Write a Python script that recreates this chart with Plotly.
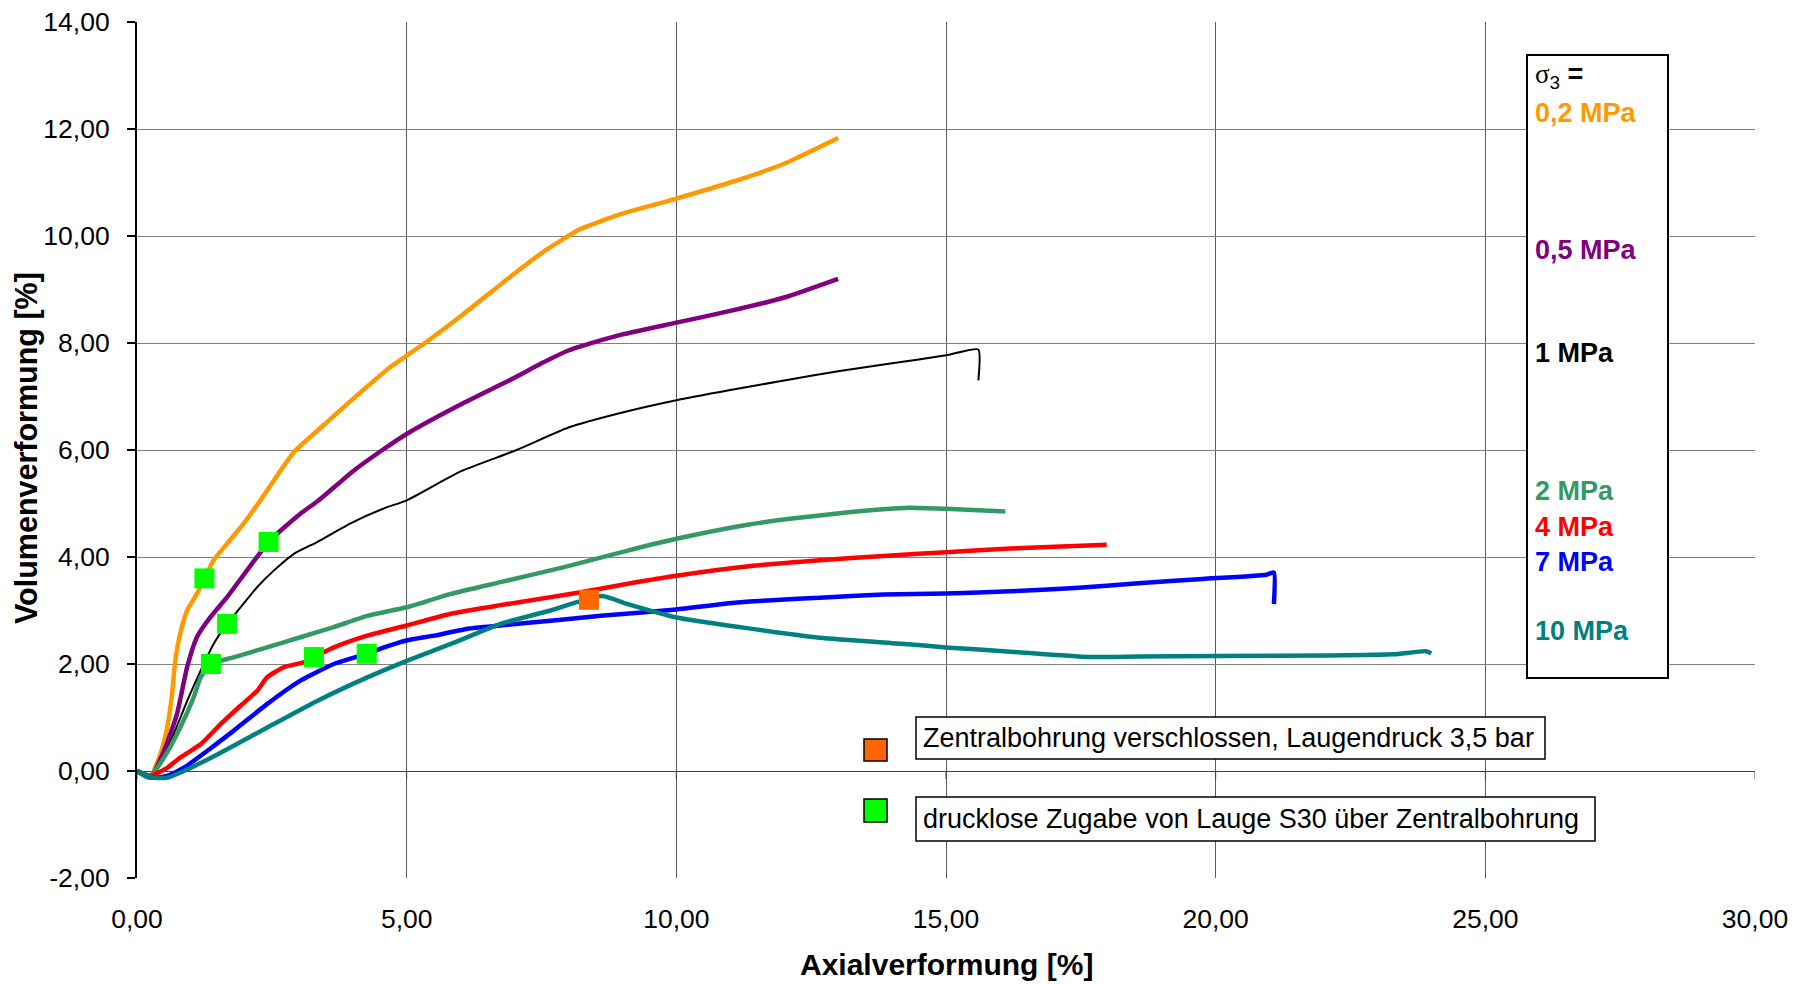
import plotly.graph_objects as go

# ---------------- data ----------------
x_02 = [0, 0.25, 0.43, 0.56, 0.65, 0.71, 0.8, 0.93, 1.11, 1.25, 1.42, 1.67, 1.98, 2.29, 2.9, 3.5, 4.0, 4.7, 5.34, 6.0, 6.5, 7.0, 7.6, 8.2, 8.6, 9.0, 10.0, 11.0, 12.0, 13.0]
y_02 = [0, -0.09, 0.31, 0.81, 1.44, 2.06, 2.56, 3.0, 3.31, 3.59, 3.94, 4.25, 4.63, 5.06, 5.95, 6.5, 6.95, 7.55, 8.0, 8.5, 8.9, 9.3, 9.75, 10.12, 10.28, 10.42, 10.7, 11.0, 11.35, 11.83]

x_05 = [0, 0.25, 0.5, 0.74, 0.93, 1.11, 1.36, 1.67, 2.04, 2.44, 2.67, 3.03, 3.37, 4.0, 4.55, 5.0, 6.0, 7.0, 7.5, 8.0, 8.5, 9.0, 10.0, 11.0, 12.0, 13.0]
y_05 = [0, -0.12, 0.375, 1.06, 1.94, 2.5, 2.875, 3.25, 3.75, 4.28, 4.5, 4.81, 5.06, 5.6, 6.0, 6.3, 6.85, 7.35, 7.62, 7.86, 8.02, 8.16, 8.38, 8.6, 8.85, 9.2]

x_1 = [0, 0.25, 0.43, 0.68, 0.93, 1.18, 1.42, 1.67, 1.92, 2.23, 2.54, 2.91, 3.34, 3.96, 4.58, 5.0, 6.0, 7.04, 8.0, 9.0, 10.0, 11.0, 12.0, 13.0, 14.0, 15.0, 15.6, 15.6]
y_1 = [0, -0.075, 0.125, 0.69, 1.31, 1.875, 2.375, 2.75, 3.06, 3.44, 3.75, 4.06, 4.28, 4.63, 4.91, 5.06, 5.6, 6.0, 6.42, 6.7, 6.93, 7.12, 7.3, 7.47, 7.62, 7.77, 7.88, 7.3]

x_2 = [0, 0.22, 0.5, 0.8, 1.05, 1.18, 1.37, 1.79, 2.41, 3.03, 3.65, 4.27, 5.0, 5.82, 6.74, 7.92, 9.1, 10.0, 11.24, 12.06, 13.24, 14.3, 15.0, 16.1]
y_2 = [0, -0.125, 0.25, 0.81, 1.375, 1.75, 2.0, 2.125, 2.31, 2.5, 2.69, 2.9, 3.06, 3.31, 3.53, 3.81, 4.12, 4.34, 4.59, 4.71, 4.84, 4.92, 4.9, 4.85]

x_4 = [0, 0.25, 0.56, 0.8, 1.18, 1.55, 1.92, 2.23, 2.41, 2.72, 3.09, 3.28, 3.65, 4.27, 5.0, 5.82, 6.74, 7.67, 8.23, 9.1, 10.0, 11.47, 12.66, 13.84, 15.0, 16.2, 17.98]
y_4 = [0, -0.09, 0.06, 0.25, 0.5, 0.875, 1.22, 1.5, 1.75, 1.94, 2.03, 2.125, 2.31, 2.53, 2.72, 2.94, 3.1, 3.25, 3.34, 3.5, 3.65, 3.84, 3.94, 4.02, 4.09, 4.16, 4.23]

x_7 = [0, 0.31, 0.56, 0.87, 1.3, 1.79, 2.41, 3.03, 3.65, 4.26, 4.58, 5.0, 5.51, 6.13, 6.74, 7.67, 8.6, 10.0, 11.12, 12.66, 13.84, 15.0, 16.2, 17.39, 18.57, 19.76, 20.94, 21.08, 21.08]
y_7 = [0, -0.125, -0.09, 0.06, 0.375, 0.75, 1.25, 1.69, 2.0, 2.19, 2.31, 2.44, 2.53, 2.66, 2.72, 2.81, 2.9, 3.02, 3.15, 3.24, 3.3, 3.32, 3.36, 3.42, 3.51, 3.59, 3.67, 3.71, 3.12]

x_10 = [0, 0.31, 0.56, 0.87, 1.49, 2.41, 3.34, 4.27, 5.0, 5.82, 6.74, 7.67, 8.17, 8.63, 9.1, 10.0, 11.24, 12.66, 14.3, 15.0, 16.2, 17.63, 18.57, 20.0, 22.1, 23.3, 23.9, 24.0]
y_10 = [0, -0.125, -0.125, 0, 0.31, 0.81, 1.31, 1.75, 2.06, 2.375, 2.75, 3.0, 3.16, 3.27, 3.12, 2.87, 2.68, 2.49, 2.37, 2.31, 2.23, 2.13, 2.14, 2.15, 2.16, 2.18, 2.24, 2.2]

# event markers
green_x = [1.25, 2.44, 1.67, 1.37, 3.28, 4.26]
green_y = [3.6, 4.28, 2.75, 2.0, 2.13, 2.19]
orange_x = [8.38]
orange_y = [3.2]

series_labels = ["0,2 MPa", "0,5 MPa", "1 MPa", "2 MPa", "4 MPa", "7 MPa", "10 MPa"]
x_ticks = [0, 5, 10, 15, 20, 25, 30]
x_tick_labels = ["0,00", "5,00", "10,00", "15,00", "20,00", "25,00", "30,00"]
y_ticks = [-2, 0, 2, 4, 6, 8, 10, 12, 14]
y_tick_labels = ["-2,00", "0,00", "2,00", "4,00", "6,00", "8,00", "10,00", "12,00", "14,00"]

note_orange = "Zentralbohrung verschlossen, Laugendruck 3,5 bar"
note_green = "drucklose Zugabe von Lauge S30 über Zentralbohrung"

# ---------------- styling ----------------
colors = ["#FF9900", "#800080", "#000000", "#339966", "#FF0000", "#0000FF", "#008080"]
widths = [4.5, 4.5, 2, 4.5, 4.5, 4.5, 4.5]
FONT = "Liberation Sans, Arial, sans-serif"

W, H = 1799, 984
L, R, T, B = 137, 1755, 22, 878


def px(x):
    return (x - L) / (R - L)


def py(y):
    return (B - y) / (B - T)


fig = go.Figure()
series = [(x_02, y_02), (x_05, y_05), (x_1, y_1), (x_2, y_2), (x_4, y_4), (x_7, y_7), (x_10, y_10)]
for (xs, ys), c, w, name in zip(series, colors, widths, series_labels):
    fig.add_trace(go.Scatter(x=xs, y=ys, mode="lines", name=name,
                             line=dict(color=c, width=w, shape="spline", smoothing=0.5),
                             showlegend=False))

fig.add_trace(go.Scatter(x=green_x, y=green_y, mode="markers", showlegend=False,
                         marker=dict(symbol="square", size=20, color="#00FF00", line=dict(width=0))))
fig.add_trace(go.Scatter(x=orange_x, y=orange_y, mode="markers", showlegend=False,
                         marker=dict(symbol="square", size=20, color="#FF6600", line=dict(width=0))))

shapes = []
# small tick marks on the x axis line at y = 0
for xv in x_ticks:
    shapes.append(dict(type="line", xref="x", yref="y", x0=xv, x1=xv, y0=0, y1=-0.15,
                       line=dict(color="#404040", width=1)))
# sigma legend box
shapes.append(dict(type="rect", xref="paper", yref="paper", x0=px(1527), x1=px(1668), y0=py(678), y1=py(55),
                   line=dict(color="black", width=2), fillcolor="white", layer="above"))
# note boxes
shapes.append(dict(type="rect", xref="paper", yref="paper", x0=px(916), x1=px(1545), y0=py(759), y1=py(717),
                   line=dict(color="black", width=1.5), fillcolor="white", layer="above"))
shapes.append(dict(type="rect", xref="paper", yref="paper", x0=px(916), x1=px(1595), y0=py(841), y1=py(797),
                   line=dict(color="black", width=1.5), fillcolor="white", layer="above"))
# note keys
shapes.append(dict(type="rect", xref="paper", yref="paper", x0=px(864), x1=px(887), y0=py(761), y1=py(739),
                   line=dict(color="black", width=1.5), fillcolor="#FF6600", layer="above"))
shapes.append(dict(type="rect", xref="paper", yref="paper", x0=px(864), x1=px(887), y0=py(822), y1=py(799),
                   line=dict(color="black", width=1.5), fillcolor="#00FF00", layer="above"))

annotations = []
annotations.append(dict(xref="paper", yref="paper", x=px(1533), y=py(76), xanchor="left", yanchor="middle",
                        text='<span style="font-family:Liberation Serif">σ</span><sub>3</sub> <b>=</b>',
                        showarrow=False, font=dict(size=27, color="black", family=FONT)))
label_y = [113, 250, 353, 491, 527, 562, 631]
for lab, c, ly in zip(series_labels, colors, label_y):
    annotations.append(dict(xref="paper", yref="paper", x=px(1533), y=py(ly), xanchor="left", yanchor="middle",
                            text="<b>" + lab + "</b>", showarrow=False,
                            font=dict(size=27, color=c, family=FONT)))
annotations.append(dict(xref="paper", yref="paper", x=px(921), y=py(738), xanchor="left", yanchor="middle",
                        text=note_orange, showarrow=False, font=dict(size=27, color="black", family=FONT)))
annotations.append(dict(xref="paper", yref="paper", x=px(921), y=py(819), xanchor="left", yanchor="middle",
                        text=note_green, showarrow=False, font=dict(size=27, color="black", family=FONT)))
# axis titles
annotations.append(dict(xref="paper", yref="paper", x=0.5, y=py(964), xanchor="center", yanchor="middle",
                        text="<b>Axialverformung [%]</b>", showarrow=False,
                        font=dict(size=30, color="black", family=FONT)))
annotations.append(dict(xref="paper", yref="paper", x=px(26), y=py(448), xanchor="center", yanchor="middle",
                        text="<b>Volumenverformung [%]</b>", textangle=-90, showarrow=False,
                        font=dict(size=30.5, color="black", family=FONT)))

fig.update_layout(
    width=W, height=H,
    margin=dict(l=L, r=W - R, t=T, b=H - B, autoexpand=False),
    paper_bgcolor="white", plot_bgcolor="white",
    font=dict(family=FONT, size=26, color="black"),
    shapes=shapes, annotations=annotations,
    showlegend=False,
)
fig.update_xaxes(range=[0, 30], tickvals=x_ticks, ticktext=x_tick_labels, automargin=False,
                 showgrid=True, gridcolor="#5a5a5a", gridwidth=1,
                 zeroline=False, showline=False, ticks="", ticklabelstandoff=22,
                 tickfont=dict(size=26.5, family=FONT, color="black"))
fig.update_yaxes(range=[-2, 14], tickvals=y_ticks, ticktext=y_tick_labels, automargin=False,
                 showgrid=True, gridcolor="#808080", gridwidth=1,
                 zeroline=True, zerolinecolor="#404040", zerolinewidth=1,
                 showline=True, linecolor="black", linewidth=2,
                 ticks="outside", ticklen=8, tickcolor="black", tickwidth=1.5,
                 ticklabelstandoff=12,
                 tickfont=dict(size=26.5, family=FONT, color="black"))

fig.write_html("out.html")
